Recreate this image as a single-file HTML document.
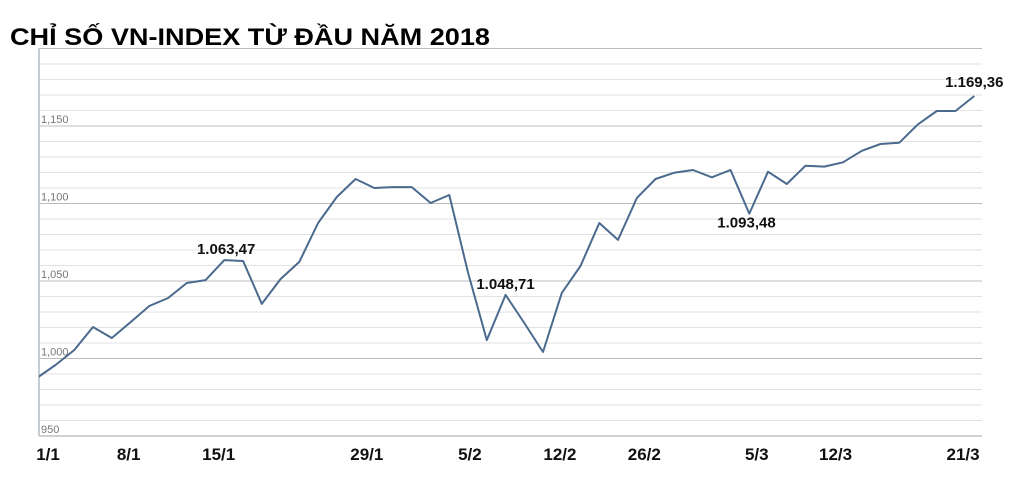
<!DOCTYPE html>
<html><head><meta charset="utf-8"><style>
html,body{margin:0;padding:0;background:#fff;}
svg{display:block;font-family:"Liberation Sans",sans-serif;}
</style></head><body>
<svg id="chart" width="1023" height="493" viewBox="0 0 1023 493">
<text x="10" y="45" font-size="24" font-weight="bold" fill="#000" textLength="480" lengthAdjust="spacingAndGlyphs">CHỈ SỐ VN-INDEX TỪ ĐẦU NĂM 2018</text>
<g id="grid"></g>
<g id="yticks"></g>
<g id="xticks"></g>
<g id="series"></g>
<g id="notes"></g>
</svg>
<script>
const values = [987.4,995.8,1005.5,1020.3,1013.2,1023.5,1033.9,1039,1048.7,1050.6,1063.47,1062.9,1035.2,1051.3,1062.3,1087.4,1104.2,1115.8,1110,1110.6,1110.6,1100.3,1105.5,1055.2,1011.9,1041,1022.9,1004.2,1042.3,1059.7,1087.4,1076.5,1103.5,1115.8,1119.9,1121.6,1116.9,1121.6,1093.48,1120.5,1112.6,1124.4,1123.8,1126.6,1134,1138.4,1139.2,1151.1,1159.7,1159.7,1169.36];
const yTicks = [950,1000,1050,1100,1150];
const yTickLabels = ["950","1,000","1,050","1,100","1,150"];
const xLabels = ["1/1","8/1","15/1","29/1","5/2","12/2","26/2","5/3","12/3","21/3"];
const xLabelIdx = [0.6,4.9,9.7,17.6,23.1,27.9,32.4,38.4,42.6,49.4];
const noteIdx = [10.1,25.0,37.85,50];
const noteText = ["1.063,47","1.048,71","1.093,48","1.169,36"];
const noteVal = [1063.47,1048.71,1093.48,1169.36];
const noteDy = [-6,6,14,-9];

const NS="http://www.w3.org/2000/svg";
const X0=36.8, DX=18.75, L=39, R=982, YB=436, PPU=1.55;
const x = i => X0 + DX*i;
const y = v => YB - (v-950)*PPU;
function mk(t,a,p){const e=document.createElementNS(NS,t);for(const k in a)e.setAttribute(k,a[k]);p.appendChild(e);return e;}
const grid=document.getElementById('grid');
for(let v=960; v<=1200; v+=10){
  const ln=mk('line',{x1:L,x2:R,y1:y(v),y2:y(v),stroke:(v%50===0)?'#bcbcbc':'#e2e2e2','stroke-width':1},grid);
  
  
}
const ax=mk('line',{x1:L,x2:L,y1:y(1200),y2:YB,stroke:'#c5ccd3','stroke-width':2},grid);


const bx=mk('line',{x1:L,x2:R,y1:YB,y2:YB,stroke:'#c0c0c0','stroke-width':1.5},grid);


const yt=document.getElementById('yticks');
yTicks.forEach((v,k)=>{
  const t=mk('text',{x:41,y:y(v)-3,'font-size':11,fill:'#777'},yt);
  t.textContent=yTickLabels[k];
  
  
});
const xt=document.getElementById('xticks');
xLabels.forEach((s,k)=>{
  const t=mk('text',{x:x(xLabelIdx[k]),y:460,'font-size':17,'font-weight':'bold','text-anchor':'middle',fill:'#111'},xt);
  t.textContent=s;
  
  
});
const pts=values.map((v,i)=>x(i).toFixed(1)+','+y(v).toFixed(1)).join(' ');
const cp=mk('clipPath',{id:'cp'},document.getElementById('chart'));
mk('rect',{x:L,y:0,width:R-L+5,height:493},cp);
const pl=mk('polyline',{points:pts,fill:'none',stroke:'#4a6a8e','stroke-width':2,'stroke-linejoin':'round','clip-path':'url(#cp)'},document.getElementById('series'));


const nt=document.getElementById('notes');
noteText.forEach((s,k)=>{
  const t=mk('text',{x:x(noteIdx[k]),y:y(noteVal[k])+noteDy[k],'font-size':15,'font-weight':'bold','text-anchor':'middle',fill:'#111'},nt);
  t.textContent=s;
  
  
});
</script>
</body></html>
